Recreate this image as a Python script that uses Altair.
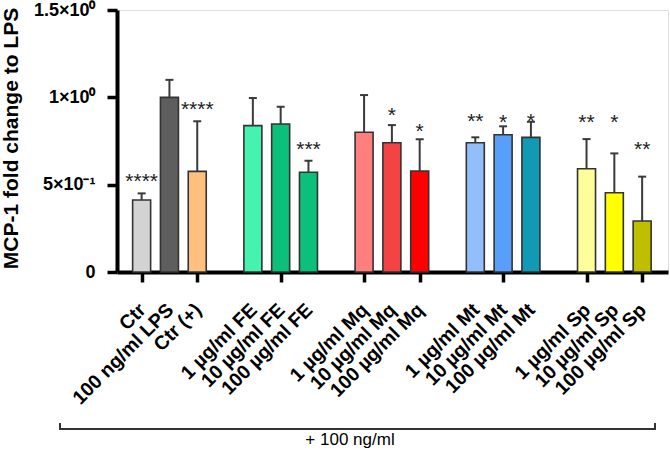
import altair as alt
import pandas as pd

# ---- data ----
names = ["Ctr", "100 ng/ml LPS", "Ctr (+)",
         "1 µg/ml FE", "10 µg/ml FE", "100 µg/ml FE",
         "1 µg/ml Mq", "10 µg/ml Mq", "100 µg/ml Mq",
         "1 µg/ml Mt", "10 µg/ml Mt", "100 µg/ml Mt",
         "1 µg/ml Sp", "10 µg/ml Sp", "100 µg/ml Sp"]
groups = ["Ctrl"] * 3 + ["FE"] * 3 + ["Mq"] * 3 + ["Mt"] * 3 + ["Sp"] * 3
means = [0.412, 1.00, 0.576,
         0.838, 0.847, 0.571,
         0.800, 0.740, 0.578,
         0.740, 0.786, 0.771,
         0.591, 0.454, 0.292]
sds = [0.038, 0.100, 0.287,
       0.158, 0.099, 0.066,
       0.213, 0.101, 0.182,
       0.031, 0.048, 0.089,
       0.170, 0.225, 0.254]
stars = ["****", "", "****",
         "", "", "***",
         "", "*", "*",
         "**", "*", "*",
         "**", "*", "**"]
star_level = [0.55, None, 0.962,
              None, None, 0.733,
              None, 0.927, 0.836,
              0.893, 0.889, 0.893,
              0.886, 0.886, 0.733]
colors = ["#d3d3d3", "#5e5e5e", "#ffc07f",
          "#46f2b0", "#0cbf7b", "#0cbf7b",
          "#ff7f7f", "#f44343", "#ff0000",
          "#92befa", "#579ffa", "#1299b5",
          "#ffff99", "#ffff00", "#bfbf00"]
y_ticks = [0, 0.5, 1.0, 1.5]
y_tick_labels = ["0", "5×10⁻¹", "1×10⁰", "1.5×10⁰"]
bracket_text = "+ 100 ng/ml"

# slot position: one empty slot between groups
group_order = list(dict.fromkeys(groups))
pos = [i + group_order.index(g) for i, g in enumerate(groups)]
n_slots = pos[-1] + 1

df = pd.DataFrame({
    "name": names, "pos": pos, "mean": means,
    "top": [m + s for m, s in zip(means, sds)],
    "color": colors, "star": stars, "star_y": star_level,
})
df_star = df[df["star"] != ""]

FONT = "Liberation Sans"
x_scale = alt.Scale(domain=[-0.706, n_slots - 0.25], nice=False, zero=False)
y_scale = alt.Scale(domain=[0, 1.5], nice=False)

y_label_expr = " : ".join(
    f"datum.value == {v} ? '{t}'" for v, t in zip(y_ticks[:-1], y_tick_labels[:-1])
) + f" : '{y_tick_labels[-1]}'"

x_enc = alt.X("pos:Q", scale=x_scale, axis=alt.Axis(
    values=pos, labels=False, title=None, grid=False,
    domainWidth=4, domainColor="black", tickWidth=3.5, tickSize=10, tickColor="black",
))
y_enc = alt.Y("mean:Q", scale=y_scale, axis=alt.Axis(
    values=y_ticks, labelExpr=y_label_expr, grid=False,
    title="MCP-1 fold change to LPS", titleFont=FONT, titleFontSize=21,
    titleFontWeight="bold", titleColor="black", titleX=-106, titleY=128,
    titleBaseline="middle",
    labelFont=FONT, labelFontSize=18, labelFontWeight="bold", labelColor="black",
    labelPadding=12, labelOverlap=False, labelFlush=False,
    domainWidth=4, domainColor="black", tickWidth=3.5, tickSize=10, tickColor="black",
))

base = alt.Chart(df)
bars = base.mark_bar(size=18, stroke="#333333", strokeWidth=1.6).encode(
    x=x_enc, y=y_enc, color=alt.Color("color:N", scale=None))
err = base.mark_rule(color="#3a3a3a", strokeWidth=2).encode(
    x="pos:Q", y="mean:Q", y2="top:Q")
cap = base.mark_rule(color="#3a3a3a", strokeWidth=2, xOffset=-4, x2Offset=4).encode(
    x="pos:Q", x2="pos:Q", y="top:Q")
star_txt = alt.Chart(df_star).mark_text(
    font=FONT, fontSize=21, color="#222222", baseline="alphabetic", dy=12).encode(
    x="pos:Q", y="star_y:Q", text="star:N")

# category labels, rotated, ending at each tick
xlab = base.mark_text(
    font=FONT, fontSize=19.5, fontWeight="bold", color="black",
    angle=315, align="right", baseline="middle", xOffset=1).encode(
    x="pos:Q", y=alt.value(297), text="name:N")

# bracket annotation under the labels
bl = alt.Chart(df.head(1)).mark_rule(color="#333333", strokeWidth=2).encode(
    x=alt.value(-57), x2=alt.value(538), y=alt.value(419))
bt1 = alt.Chart(df.head(1)).mark_rule(color="#333333", strokeWidth=2).encode(
    x=alt.value(-57), y=alt.value(413), y2=alt.value(420))
bt2 = alt.Chart(df.head(1)).mark_rule(color="#333333", strokeWidth=2).encode(
    x=alt.value(538), y=alt.value(413), y2=alt.value(420))
btxt = alt.Chart(df.head(1)).mark_text(
    font=FONT, fontSize=17, color="black", baseline="middle").encode(
    x=alt.value(233), y=alt.value(430), text=alt.value(bracket_text))

chart = alt.layer(bars, err, cap, star_txt, xlab, bl, bt1, bt2, btxt).properties(
    width=551, height=262,
    autosize=alt.AutoSizeParams(type="none"),
    padding={"left": 117, "top": 10, "right": 2, "bottom": 180},
).configure_view(stroke=None).configure(background="white")

chart.save("out.html", embed_options={"renderer": "svg", "actions": False})
